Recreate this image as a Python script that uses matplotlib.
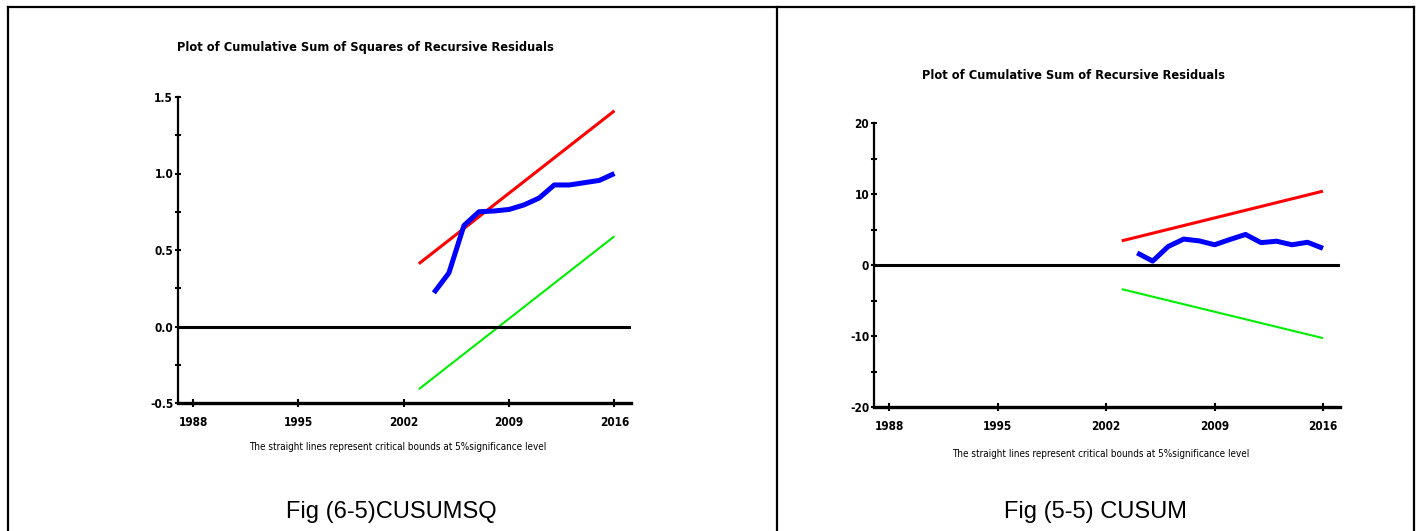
import matplotlib.pyplot as plt
from matplotlib.lines import Line2D

plt.rcParams['axes.unicode_minus'] = False

# Données
years = [2004, 2005, 2006, 2007, 2008, 2009, 2010, 2011, 2012, 2013, 2014, 2015, 2016]
bound_years = [2003, 2016]

cusumsq = [0.22, 0.35, 0.66, 0.75, 0.755, 0.765, 0.795, 0.84, 0.925, 0.925, 0.94, 0.955, 1.0]
cusumsq_upper = [0.41, 1.41]
cusumsq_lower = [-0.41, 0.59]

cusum = [1.7, 0.55, 2.6, 3.65, 3.4, 2.85, 3.6, 4.3, 3.15, 3.35, 2.85, 3.2, 2.35]
cusum_upper = [3.4, 10.4]
cusum_lower = [-3.4, -10.3]

xticks = [1988, 1995, 2002, 2009, 2016]
note = 'The straight lines represent critical bounds at 5%significance level'

narrow = dict(family='DejaVu Sans', stretch='condensed')
W, H = 1417, 531

fig = plt.figure(figsize=(W / 100, H / 100), dpi=100)


def make_axes(rect, ylim, major, minor, upper, lower, resid):
    ax = fig.add_axes(rect)
    ax.set_xlim(1987, 2017.1)
    ax.set_ylim(*ylim)
    ax.plot(bound_years, upper, color='#ff0000', lw=2.2, solid_capstyle='butt')
    ax.plot(bound_years, lower, color='#00ee00', lw=1.5, solid_capstyle='butt')
    ax.plot(years, resid, color='#0000ff', lw=3.6, solid_capstyle='butt')
    ax.axhline(0, color='black', lw=2.2)
    for s in ['top', 'right']:
        ax.spines[s].set_visible(False)
    ax.spines['left'].set_linewidth(1.6)
    ax.spines['bottom'].set_linewidth(2.4)
    ax.set_xticks(xticks)
    ax.set_yticks(major)
    ax.set_yticks(minor, minor=True)
    ax.tick_params(axis='x', direction='inout', length=6, width=1.5, pad=6)
    ax.tick_params(axis='y', which='both', direction='inout', length=5, width=1.5, pad=1)
    for lab in ax.get_xticklabels() + ax.get_yticklabels():
        lab.set_family(narrow['family'])
        lab.set_stretch(narrow['stretch'])
        lab.set_weight('bold')
        lab.set_fontsize(8.5)
    return ax


ax1 = make_axes([178 / W, 1 - 403 / H, 453 / W, 306 / H], (-0.5, 1.5),
                [-0.5, 0.0, 0.5, 1.0, 1.5], [-0.25, 0.25, 0.75, 1.25],
                cusumsq_upper, cusumsq_lower, cusumsq)
ax1.set_yticklabels(['-0.5', '0.0', '0.5', '1.0', '1.5'])

ax2 = make_axes([874 / W, 1 - 407 / H, 466 / W, 284 / H], (-20, 20),
                [-20, -10, 0, 10, 20], [-15, -5, 5, 15],
                cusum_upper, cusum_lower, cusum)

# Titres, notes et légendes
fig.text(365 / W, 1 - 47 / H, 'Plot of Cumulative Sum of Squares of Recursive Residuals',
         ha='center', va='center', weight='bold', fontsize=9.2, **narrow)
fig.text(1073 / W, 1 - 76 / H, 'Plot of Cumulative Sum of Recursive Residuals',
         ha='center', va='center', weight='bold', fontsize=9.2, **narrow)
fig.text(398 / W, 1 - 447 / H, note, ha='center', va='center', fontsize=7.1, **narrow)
fig.text(1101 / W, 1 - 454 / H, note, ha='center', va='center', fontsize=7.1, **narrow)
fig.text(391 / W, 1 - 512 / H, 'Fig (6-5)CUSUMSQ', ha='center', va='center',
         family='Liberation Sans', fontsize=17)
fig.text(1096 / W, 1 - 512 / H, 'Fig (5-5) CUSUM', ha='center', va='center',
         family='Liberation Sans', fontsize=17)

# Cadre du tableau
top = 1 - 7 / H
for xs, ys in [([8 / W, 1414 / W], [top, top]),
               ([8 / W, 8 / W], [0, top]),
               ([777 / W, 777 / W], [0, top]),
               ([1414 / W, 1414 / W], [0, top])]:
    fig.add_artist(Line2D(xs, ys, color='black', lw=1.6))

fig.savefig('out.png', dpi=100)
